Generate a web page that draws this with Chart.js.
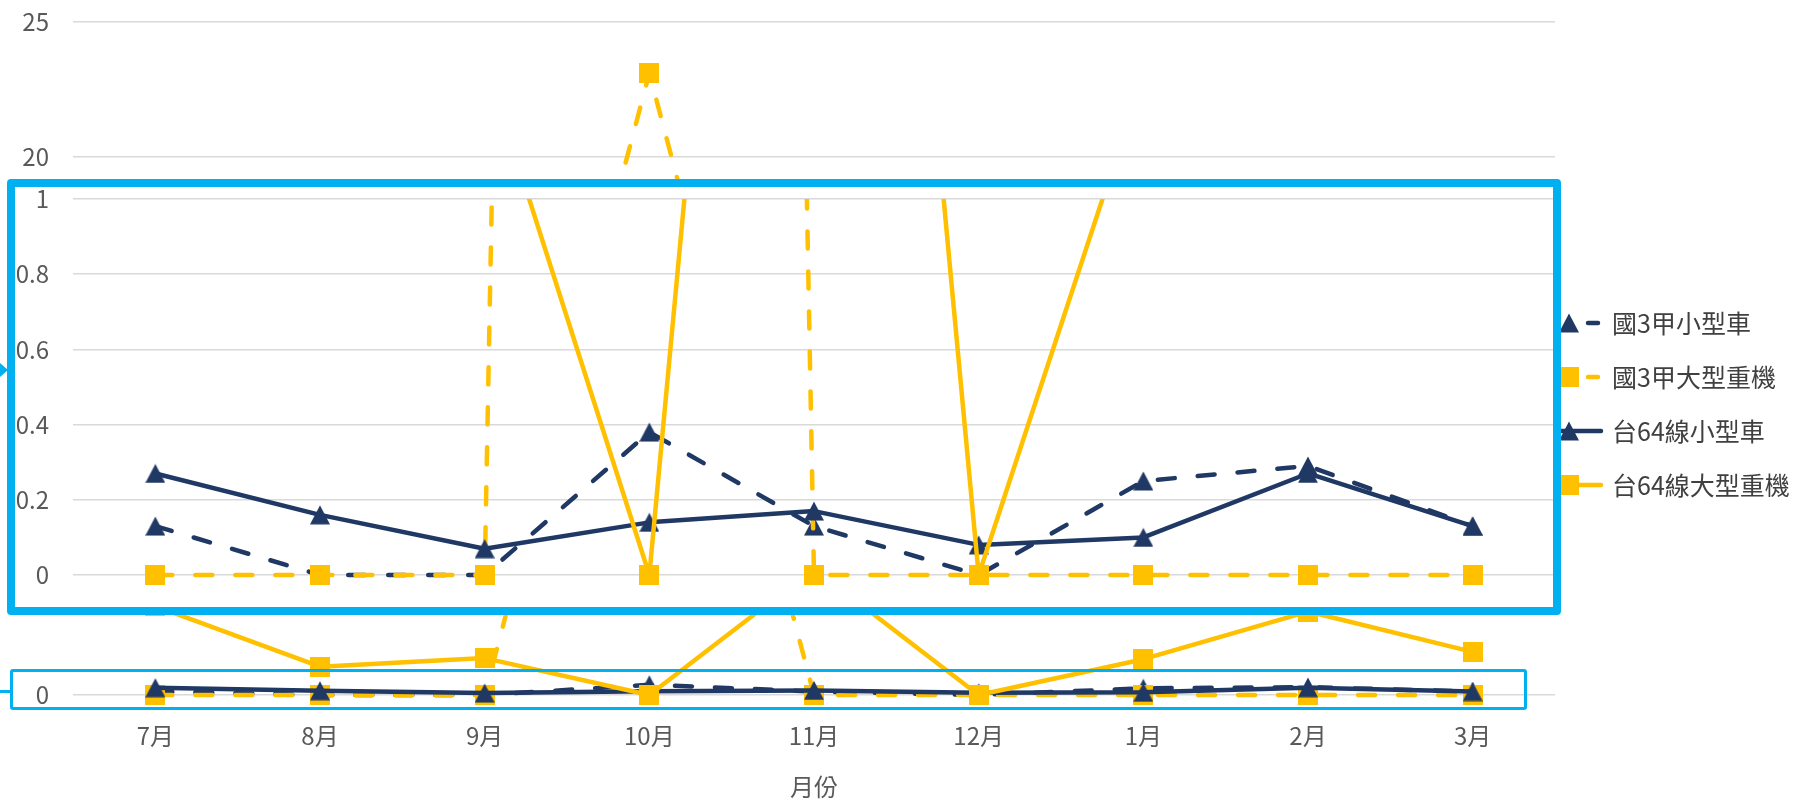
<!DOCTYPE html>
<html lang="zh-Hant">
<head>
<meta charset="utf-8">
<title>月份</title>
<script src="https://cdn.jsdelivr.net/npm/chart.js@4.4.1/dist/chart.umd.min.js"></script>
<style>
  html, body { margin: 0; padding: 0; background: #fff; }
  #wrap { position: relative; width: 1804px; height: 801px; overflow: hidden; }
  #mainChart { position: absolute; left: 0; top: 0; }
  /* zoomed-in box over the main chart */
  #zoomBox { position: absolute; left: 7px; top: 179px; width: 1554px; height: 436px; box-sizing: border-box;
             border: 8px solid #00B0F0; border-radius: 4px; background: #fff; overflow: hidden; }
  #zoomChart { position: absolute; left: -15px; top: -187px; }
  #zeroBox { position: absolute; left: 10px; top: 669px; width: 1517px; height: 41px; box-sizing: border-box;
             border: 3.5px solid #00B0F0; border-radius: 3px; }
  #connector { position: absolute; left: 0; top: 0; }
</style>
</head>
<body>
<div id="wrap">
  <canvas id="mainChart" width="1804" height="801"></canvas>
  <div id="zoomBox"><canvas id="zoomChart" width="1804" height="801"></canvas></div>
  <div id="zeroBox"></div>
  <svg id="connector" width="20" height="801">
    <polygon points="0,363 8,370 0,377" fill="#00B0F0"/>
    <line x1="0" y1="691.5" x2="10" y2="691.5" stroke="#00B0F0" stroke-width="3"/>
  </svg>
</div>
<script>
// Data
const months = ['7月', '8月', '9月', '10月', '11月', '12月', '1月', '2月', '3月']
const seriesNames = ['國3甲小型車', '國3甲大型重機', '台64線小型車', '台64線大型重機']
const guo3SmallCar = [0.13, 0, 0, 0.38, 0.13, 0, 0.25, 0.29, 0.13]
const guo3HeavyMoto = [0, 0, 0, 23.1, 0, 0, 0, 0, 0]
const tai64SmallCar = [0.27, 0.16, 0.07, 0.14, 0.17, 0.08, 0.10, 0.27, 0.13]
const tai64HeavyMoto = [3.3, 1.05, 1.37, 0, 4.7, 0, 1.33, 3.1, 1.6]
const mainAxis = { min: 0, max: 25, step: 5 }
const zoomAxis = { min: 0, max: 1, step: 0.2 }
const xTitle = '月份'

const navy = '#203864'
const yellow = '#FFC000'
const gray = '#595959'
const gridColor = '#D9D9D9'
const font = { family: '"Noto Sans CJK TC", "Noto Sans", sans-serif', size: 24 }

Chart.defaults.font.family = font.family

// Marker images (centred on the point like Excel markers)
const makeMarker = (shape, color) => {
    const c = document.createElement('canvas')
    c.width = 20
    c.height = 20
    const g = c.getContext('2d')
    g.fillStyle = color
    if (shape === 'triangle') {
        g.beginPath()
        g.moveTo(10, 0.5)
        g.lineTo(20, 19.5)
        g.lineTo(0, 19.5)
        g.closePath()
        g.fill()
    } else {
        g.fillRect(0, 0, 20, 20)
    }
    return c
}
const triNavy = makeMarker('triangle', navy)
const sqYellow = makeMarker('square', yellow)

const buildDatasets = (clip) => {
    const base = [
        { label: seriesNames[0], data: guo3SmallCar, borderColor: navy, borderDash: [17, 23], pointStyle: triNavy, order: 4 },
        { label: seriesNames[1], data: guo3HeavyMoto, borderColor: yellow, borderDash: [17, 23], pointStyle: sqYellow, order: 3 },
        { label: seriesNames[2], data: tai64SmallCar, borderColor: navy, borderDash: [], pointStyle: triNavy, order: 2 },
        { label: seriesNames[3], data: tai64HeavyMoto, borderColor: yellow, borderDash: [], pointStyle: sqYellow, order: 1 },
    ]
    return base.map(d => Object.assign({
        borderWidth: 4.5,
        borderCapStyle: 'round',
        borderJoinStyle: 'round',
        backgroundColor: d.borderColor,
        pointRadius: 10,
        pointHoverRadius: 10,
        tension: 0,
        fill: false,
        clip: clip
    }, d))
}

// y axis: fixed width, no extra top/bottom padding from the labels
const fixYAxis = s => {
    s.width = 73
    s.paddingTop = 0
    s.paddingBottom = 0
}
const tickLabel = v => String(Number(v.toFixed(1)))

// Legend drawn at the right side of the main chart
const legendTop = 323
const legendGap = 54
const sideLegend = {
    id: 'sideLegend',
    afterDraw(chart) {
        const ctx = chart.ctx
        chart.data.datasets.forEach((ds, i) => {
            const y = legendTop + i * legendGap
            ctx.save()
            ctx.strokeStyle = ds.borderColor
            ctx.lineWidth = 4.5
            ctx.lineCap = 'round'
            ctx.beginPath()
            if (ds.borderDash.length) {
                ctx.moveTo(1540, y); ctx.lineTo(1552, y)
                ctx.moveTo(1588, y); ctx.lineTo(1598, y)
            } else {
                ctx.moveTo(1540, y); ctx.lineTo(1601, y)
            }
            ctx.stroke()
            ctx.drawImage(ds.pointStyle, 1569 - 10, y - 10)
            ctx.fillStyle = '#404040'
            ctx.font = '25px ' + font.family
            ctx.textBaseline = 'middle'
            ctx.textAlign = 'left'
            ctx.fillText(ds.label, 1612, y)
            ctx.restore()
        })
    }
}

// Main chart (0 - 25)
new Chart(document.getElementById('mainChart'), {
    type: 'line',
    data: { labels: months, datasets: buildDatasets(false) },
    options: {
        responsive: false,
        animation: false,
        events: [],
        layout: { padding: { top: 22, right: 249, left: 0, bottom: 0 } },
        plugins: { legend: { display: false }, tooltip: { enabled: false } },
        scales: {
            x: {
                offset: true,
                grid: { display: false, drawTicks: false },
                border: { display: false },
                ticks: { color: gray, font: font, padding: 26 },
                title: { display: true, text: xTitle, color: gray, font: font, padding: 0 },
                afterFit: s => { s.height = 106 }
            },
            y: {
                min: mainAxis.min,
                max: mainAxis.max,
                ticks: { stepSize: mainAxis.step, color: gray, font: font, padding: 24, callback: tickLabel },
                grid: { color: gridColor, lineWidth: 1.5, drawTicks: false },
                border: { display: false },
                afterFit: fixYAxis
            }
        }
    },
    plugins: [sideLegend]
})

// Zoomed chart (0 - 1)
new Chart(document.getElementById('zoomChart'), {
    type: 'line',
    data: { labels: months, datasets: buildDatasets({ left: 30, right: 30, top: 0, bottom: 30 }) },
    options: {
        responsive: false,
        animation: false,
        events: [],
        layout: { padding: { top: 199, right: 249, left: 0, bottom: 226 } },
        plugins: { legend: { display: false }, tooltip: { enabled: false } },
        scales: {
            x: { display: false, offset: true },
            y: {
                min: zoomAxis.min,
                max: zoomAxis.max,
                ticks: { stepSize: zoomAxis.step, color: gray, font: font, padding: 24, callback: tickLabel },
                grid: { color: gridColor, lineWidth: 1.5, drawTicks: false },
                border: { display: false },
                afterFit: fixYAxis
            }
        }
    }
})
</script>
</body>
</html>
